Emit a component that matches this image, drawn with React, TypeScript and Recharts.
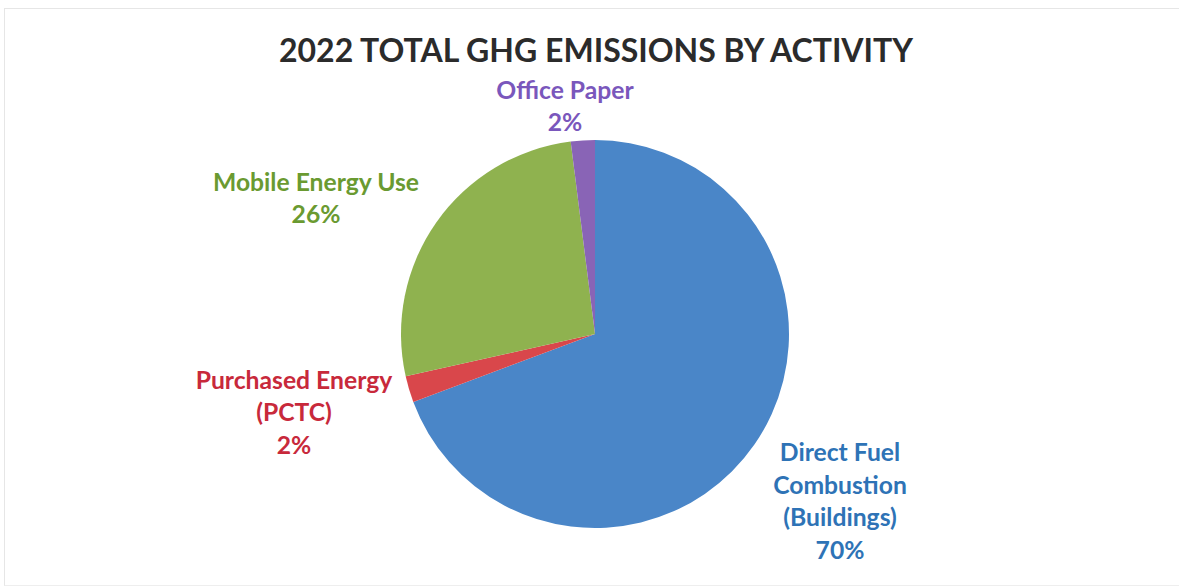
import { PieChart, Pie, Cell } from "recharts";

// slice order is clockwise from 12 o'clock
const categories = [
  "Direct Fuel Combustion (Buildings)",
  "Purchased Energy (PCTC)",
  "Mobile Energy Use",
  "Office Paper",
];
const shares = [69.3, 2.2, 26.5, 2.0];
const shareLabels = ["70%", "2%", "26%", "2%"];

const labelLines: Record<string, string[]> = {
  "Direct Fuel Combustion (Buildings)": ["Direct Fuel", "Combustion", "(Buildings)"],
  "Purchased Energy (PCTC)": ["Purchased Energy", "(PCTC)"],
  "Mobile Energy Use": ["Mobile Energy Use"],
  "Office Paper": ["Office Paper"],
};

const sliceColors = ["#4A86C8", "#D9474B", "#8FB24F", "#8964B6"];
const textColors = ["#2E73B6", "#C8293B", "#6A9A31", "#7A57BC"];

// label block centre, relative to the pie centre (Excel "best fit" placement)
const labelOffsets = [
  { dx: 245, dy: 166 },
  { dx: -301, dy: 77 },
  { dx: -279, dy: -137 },
  { dx: -30, dy: -229 },
];

const data = categories.map((name, i) => ({
  name,
  value: shares[i],
  pct: shareLabels[i],
}));

const FONT = "Lato, 'Open Sans', sans-serif";
const LINE_H = 32.5;

function renderLabel(props: any) {
  const { cx, cy, index, name, payload } = props;
  const lines = [...labelLines[name], payload.pct];
  const off = labelOffsets[index];
  const x = cx + off.dx;
  const y0 = cy + off.dy - ((lines.length - 1) * LINE_H) / 2;
  return (
    <text
      key={`lbl-${index}`}
      x={x}
      y={y0}
      textAnchor="middle"
      dominantBaseline="central"
      fill={textColors[index]}
      fontFamily={FONT}
      fontWeight={700}
      fontSize={24.7}
    >
      {lines.map((l, i) => (
        <tspan key={i} x={x} y={y0 + i * LINE_H}>
          {l}
        </tspan>
      ))}
    </text>
  );
}

export default function App() {
  return (
    <div
      style={{
        position: "absolute",
        left: 0,
        top: 0,
        width: 1179,
        height: 587,
        background: "#fff",
      }}
    >
      <div
        style={{
          position: "absolute",
          left: 4,
          top: 8,
          width: 1175,
          height: 576,
          borderTop: "1px solid #e6e6e6",
          borderLeft: "1px solid #e6e6e6",
          borderBottom: "1px solid #eeeeee",
        }}
      />
      <div
        style={{
          position: "absolute",
          left: 0,
          top: 30,
          width: 1192,
          textAlign: "center",
          fontFamily: FONT,
          fontWeight: 700,
          fontSize: 32,
          lineHeight: "40px",
          color: "#2b2b2b",
        }}
      >
        2022 TOTAL GHG EMISSIONS BY ACTIVITY
      </div>
      <div style={{ position: "absolute", left: 0, top: 0 }}>
        <PieChart width={1179} height={587}>
          <Pie
            data={data}
            dataKey="value"
            nameKey="name"
            cx={590}
            cy={329}
            outerRadius={194}
            startAngle={90}
            endAngle={-270}
            stroke="none"
            label={renderLabel}
            labelLine={false}
            isAnimationActive={false}
          >
            {data.map((d, i) => (
              <Cell key={d.name} fill={sliceColors[i]} />
            ))}
          </Pie>
        </PieChart>
      </div>
    </div>
  );
}
